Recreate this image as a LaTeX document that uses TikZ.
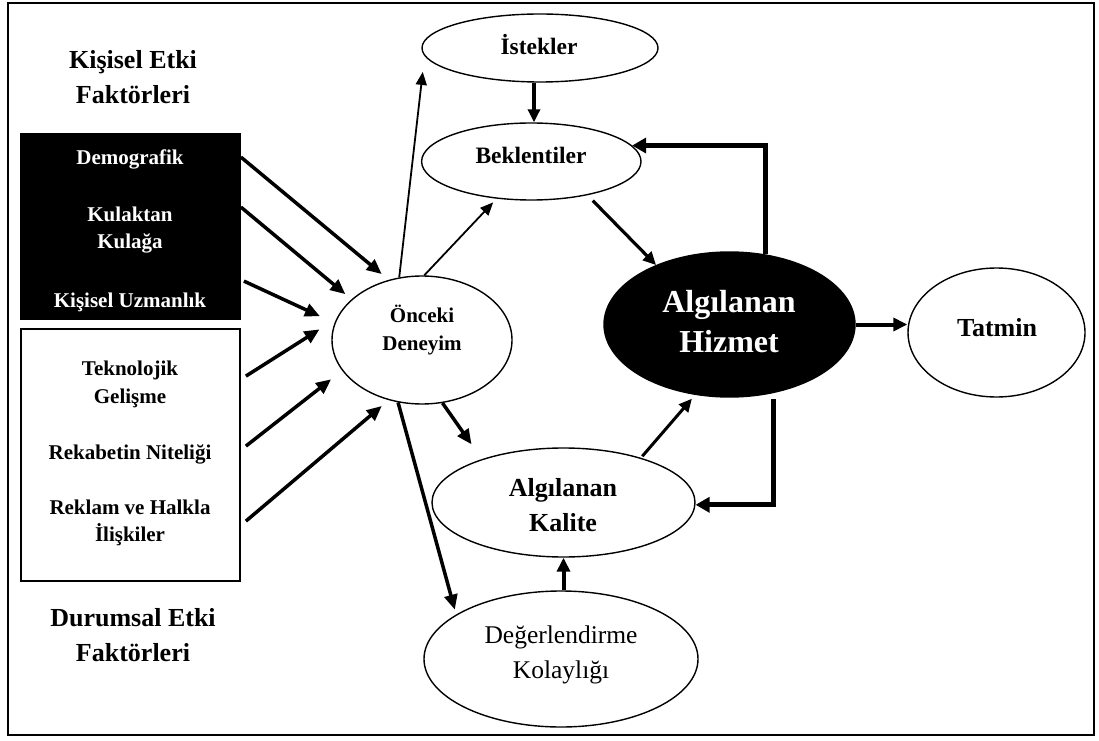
\documentclass[tikz,border=0pt]{standalone}
\usepackage{fontspec}
\setmainfont{Liberation Serif}
\usetikzlibrary{arrows.meta,shapes.geometric,calc}
\newcommand\fsz[1]{\fontsize{#1}{#1}\selectfont}

\begin{document}
\begin{tikzpicture}[x=1pt,y=1pt,
  oval/.style={draw, ellipse, line width=1.4pt, inner sep=0pt},
  factorbox/.style={draw, line width=1.8pt, inner sep=0pt},
  head/.style={anchor=base, inner sep=0pt, font=\bfseries\fsz{26}},
  boxtxt/.style={anchor=base, inner sep=0pt, font=\bfseries\fsz{21}},
  ovaltxt/.style={anchor=base, inner sep=0pt, font=\bfseries\fsz{#1}},
  arr/.style={-{Triangle[length=15pt,width=13pt]}, line width=3.5pt},
  thinarr/.style={-{Triangle[length=13pt,width=11pt]}, line width=1.8pt},
  midarr/.style={-{Triangle[length=13pt,width=12pt]}, line width=3.2pt},
  fb/.style={-{Triangle[length=14pt,width=15pt]}, line width=5pt, line join=miter}
]
\useasboundingbox (0,0) rectangle (1099,740);
\fill[white] (0,0) rectangle (1099,740);

% outer frame
\draw[line width=2pt] (8,5) rectangle (1094,737);

% factor boxes
\node[factorbox, fill=black, minimum width=219pt, minimum height=185pt] (blk) at (130.5,513.5) {};
\node[factorbox, fill=white, minimum width=219pt, minimum height=252pt] (wht) at (130.5,285) {};

% ellipses
\node[oval, minimum width=236pt, minimum height=68pt] (ist) at (540,692) {};
\node[oval, minimum width=219.4pt, minimum height=77pt] (bek) at (531.3,578.5) {};
\node[oval, minimum width=180pt, minimum height=128pt] (onc) at (422,400) {};
\node[oval, fill=black, minimum width=251pt, minimum height=145pt] (hiz) at (729.5,415.5) {};
\node[oval, minimum width=177pt, minimum height=129pt] (tat) at (996.5,407.5) {};
\node[oval, minimum width=263pt, minimum height=109pt] (kal) at (563.5,237.5) {};
\node[oval, minimum width=274pt, minimum height=136pt] (deg) at (561,81) {};

% headings
\node[head] (h1a) at (133,671) {Kişisel Etki};
\node[head] (h1b) at (133,636) {Faktörleri};
\node[head] (h2a) at (133,113.3) {Durumsal Etki};
\node[head] (h2b) at (133,78.3) {Faktörleri};

% personal factors
\node[boxtxt, text=white] (t1) at (130,575) {Demografik};
\node[boxtxt, text=white] (t2a) at (130,518.3) {Kulaktan};
\node[boxtxt, text=white] (t2b) at (130,491) {Kulağa};
\node[boxtxt, text=white] (t3) at (130,432) {Kişisel Uzmanlık};

% situational factors
\node[boxtxt] (t4a) at (130,364.5) {Teknolojik};
\node[boxtxt] (t4b) at (130,337) {Gelişme};
\node[boxtxt] (t5) at (130,280.7) {Rekabetin Niteliği};
\node[boxtxt] (t6a) at (130,226) {Reklam ve Halkla};
\node[boxtxt] (t6b) at (130,198.3) {İlişkiler};

% ellipse labels
\node[ovaltxt=23.5] (istT) at (539,685) {İstekler};
\node[ovaltxt=23.5] (bekT) at (531,576) {Beklentiler};
\node[ovaltxt=21] (oncT1) at (422,417.3) {Önceki};
\node[ovaltxt=21] (oncT2) at (422,389.3) {Deneyim};
\node[ovaltxt=32, text=white] (hizT1) at (729,428) {Algılanan};
\node[ovaltxt=32, text=white] (hizT2) at (729,388) {Hizmet};
\node[ovaltxt=26] (tatT) at (997,403.3) {Tatmin};
\node[ovaltxt=26] (kalT1) at (563,243.3) {Algılanan};
\node[ovaltxt=26] (kalT2) at (563,208.3) {Kalite};
\node[anchor=base, inner sep=0pt, font=\fsz{25.5}] (degT1) at (561,97) {Değerlendirme};
\node[anchor=base, inner sep=0pt, font=\fsz{25.5}] (degT2) at (561,62) {Kolaylığı};

% factors into prior experience
\draw[arr, shorten >=9pt]  ($(blk.north east)+(0,-24)$)  -- (onc.119);
\draw[arr, shorten >=8pt]  ($(blk.north east)+(0,-74)$)  -- (onc.150);
\draw[arr, shorten >=16pt] ($(blk.north east)+(3,-148)$) -- (onc.169);
\draw[arr, shorten >=20pt] ($(wht.north east)+(5,-48)$)  -- (onc.166);
\draw[arr, shorten >=14pt] ($(wht.north east)+(5,-118)$) -- (onc.201);
\draw[arr, shorten >=9pt]  ($(wht.north east)+(5,-193)$) -- (onc.241);

% prior experience outwards
\draw[thinarr, shorten >=16pt] (onc.110) -- (ist.184);
\draw[thinarr, shorten >=5pt]  (onc.88) -- (bek.227);
\draw[arr, shorten >=18pt] (onc.288) -- (kal.152);
\draw[arr, shorten >=5pt]  (onc.249) -- (deg.157);

% wants to expectations
\draw[midarr] ([xshift=2.7pt]bek.north |- ist.south) -- ([xshift=2.7pt]bek.north);

% expectations to perceived service
\draw[midarr, shorten <=7.5pt] (bek.329) -- (hiz.141);

% feedback loops of perceived service
\draw[fb] (hiz.63) |- (bek.9);
\draw[fb, shorten <=6.5pt] (hiz.303) |- (kal.359);

% perceived service to satisfaction
\draw[-{Triangle[length=14pt,width=13pt]}, line width=4pt] (hiz.east) -- (hiz.east -| tat.west);

% perceived quality to perceived service
\draw[-{Triangle[length=13pt,width=12pt]}, line width=3pt, shorten >=5pt, shorten <=2pt] (kal.30) -- (hiz.244);

% ease of evaluation to perceived quality
\draw[-{Triangle[length=14pt,width=13pt]}, line width=4pt] (kal.south |- deg.north) -- (kal.south);

\end{tikzpicture}
\end{document}
